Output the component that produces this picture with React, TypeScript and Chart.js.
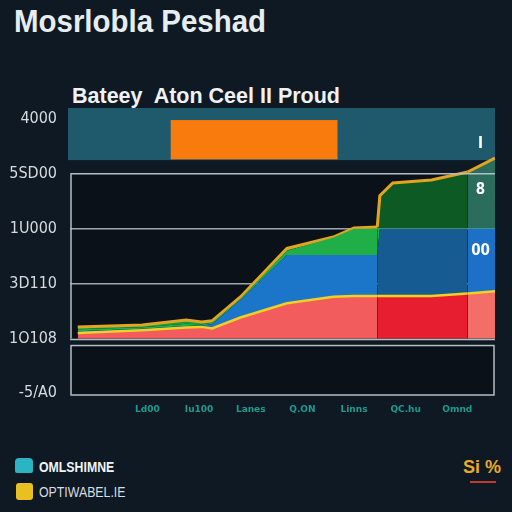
import React, { useEffect, useRef } from "react";
import { Chart, registerables } from "chart.js";

Chart.register(...registerables);

// ---- data ----
const xPoints = [-0.35, 0.9, 1.75, 2.05, 2.25, 2.8, 3.7, 4.6, 5.0, 5.45, 5.5, 5.75, 6.5, 7.2, 7.73];
const redTop = [100, 150, 200, 210, 180, 380, 640, 760, 775, 775, 775, 775, 775, 820, 860];
const blueTop = [130, 175, 225, 235, 260, 700, 1520, 1520, 1520, 1520, 2000, 2000, 2000, 2000, 2000];
const greenTop = [165, 205, 265, 255, 285, 725, 1600, 1840, 2000, 2000, 2010, 2010, 2010, 2010, 2010];
const outlineTop = [210, 244, 335, 299, 320, 755, 1640, 1848, 2012, 2030, 2600, 2833, 2888, 3033, 3288];

const xTickValues = [1, 2, 3, 4, 5, 6, 7];
const xTickLabels = ["Ld00", "Iu100", "Lanes", "Q.ON", "Linns", "QC.hu", "Omnd"];
const yTickValues = [-1000, 0, 1000, 2000, 3000, 4000];
const yTickLabels = ["-5/A0", "1O108", "3D110", "1U000", "5SD00", "4000"];

const bandRange = [3250, 4200];
const orangeX = [1.45, 4.68];
const orangeY = [3265, 3980];
const panelTop = [0, 3000];
const panelBottom = [-1050, -130];
const columnLabels = ["I", "8", "00"];
const columnLabelY = [3550, 2700, 1600];
const columnLabelX = 7.45;

const title = "Mosrlobla Peshad";
const subtitle = "Bateey  Aton Ceel II Proud";
const legendLabels = ["OMLSHIMNE", "OPTIWABEL.IE"];
const badge = "Si %";

const zoneColor = (x: number, a: string, b: string, c: string) =>
  x < 5.45 ? a : x < 7.2 ? b : c;

export default function App() {
  const ref = useRef<HTMLCanvasElement | null>(null);
  useEffect(() => {
    if (!ref.current) return;
    const bgPlugin = {
      id: "bg",
      beforeDraw(chart: any) {
        const { ctx, scales } = chart;
        const x = scales.x, y = scales.y;
        const l = x.getPixelForValue(x.min), r = x.getPixelForValue(x.max);
        ctx.save();
        ctx.fillStyle = "#1f5a6c";
        const bt = y.getPixelForValue(bandRange[1]), bb = y.getPixelForValue(bandRange[0]);
        ctx.fillRect(l - 2, bt, r - l + 2, bb - bt);
        ctx.fillStyle = "#fa7b0d";
        const ox0 = x.getPixelForValue(orangeX[0]), ox1 = x.getPixelForValue(orangeX[1]);
        const oy0 = y.getPixelForValue(orangeY[1]), oy1 = y.getPixelForValue(orangeY[0]);
        ctx.fillRect(ox0, oy0, ox1 - ox0, oy1 - oy0);
        ctx.fillStyle = "#0a1119";
        const p1t = y.getPixelForValue(panelTop[1]), p1b = y.getPixelForValue(panelTop[0]);
        ctx.fillRect(l, p1t, r - l, p1b - p1t);
        const p2t = y.getPixelForValue(panelBottom[1]), p2b = y.getPixelForValue(panelBottom[0]);
        ctx.fillRect(l, p2t, r - l, p2b - p2t);
        ctx.restore();
      },
      afterDatasetsDraw(chart: any) {
        const { ctx, scales } = chart;
        const x = scales.x, y = scales.y;
        const l = x.getPixelForValue(x.min), r = x.getPixelForValue(x.max);
        ctx.save();
        ctx.strokeStyle = "#b4bec5";
        ctx.lineWidth = 1.5;
        const p1t = y.getPixelForValue(panelTop[1]), p1b = y.getPixelForValue(panelTop[0]);
        ctx.beginPath();
        ctx.moveTo(l + 1, p1b);
        ctx.lineTo(l + 1, p1t);
        ctx.lineTo(r, p1t);
        ctx.stroke();
        ctx.beginPath();
        ctx.moveTo(l, p1b + 1);
        ctx.lineTo(r, p1b + 1);
        ctx.stroke();
        const p2t = y.getPixelForValue(panelBottom[1]), p2b = y.getPixelForValue(panelBottom[0]);
        ctx.strokeRect(l + 1, p2t, r - l - 2, p2b - p2t - 1);
        ctx.fillStyle = "#ffffff";
        ctx.font = "bold 15px 'DejaVu Sans Condensed', 'DejaVu Sans', sans-serif";
        ctx.textAlign = "center";
        ctx.textBaseline = "middle";
        columnLabels.forEach((t, i) => {
          ctx.fillText(t, x.getPixelForValue(columnLabelX), y.getPixelForValue(columnLabelY[i]));
        });
        ctx.restore();
      },
    };

    const mk = (d: number[]) => xPoints.map((xv, i) => ({ x: xv, y: d[i] }));
    const chart = new Chart(ref.current, {
      type: "line",
      data: {
        datasets: [
          {
            data: mk(redTop),
            fill: "origin",
            backgroundColor: "#f25c5c",
            borderColor: "#f0d020",
            borderWidth: 2.5,
            pointRadius: 0,
            segment: {
              backgroundColor: (c: any) => zoneColor(c.p0.parsed.x, "#f25c5c", "#e61e30", "#f26e66"),
            },
          },
          {
            data: mk(blueTop),
            fill: "-1",
            backgroundColor: "#1b76c9",
            borderColor: "rgba(0,0,0,0)",
            borderWidth: 0,
            pointRadius: 0,
            segment: {
              backgroundColor: (c: any) => zoneColor(c.p0.parsed.x, "#1b76c9", "#165c92", "#1c70c8"),
            },
          },
          {
            data: mk(greenTop),
            fill: "-1",
            backgroundColor: "#1fae48",
            borderColor: "rgba(0,0,0,0)",
            borderWidth: 0,
            pointRadius: 0,
          },
          {
            data: mk(outlineTop),
            fill: "-1",
            backgroundColor: "#0e5a25",
            borderColor: "#e3a521",
            borderWidth: 3,
            pointRadius: 0,
            segment: {
              backgroundColor: (c: any) => zoneColor(c.p0.parsed.x, "#10a040", "#0e5a25", "#2b6d5c"),
            },
          },
        ],
      },
      options: {
        responsive: false,
        animation: false,
        layout: { padding: { left: 0, right: 17, top: 8, bottom: 10 } },
        plugins: { legend: { display: false }, tooltip: { enabled: false } },
        scales: {
          x: {
            type: "linear",
            min: -0.5,
            max: 7.73,
            afterBuildTicks: (s: any) => {
              s.ticks = xTickValues.map((v) => ({ value: v }));
            },
            afterFit: (s: any) => {
              s.height = 34;
              s.paddingLeft = 0;
              s.paddingRight = 0;
            },
            ticks: {
              color: "#1e9c8c",
              font: { size: 9, weight: "bold", family: "'DejaVu Sans', sans-serif" },
              padding: 8,
              maxRotation: 0,
              callback: (v: any) => xTickLabels[xTickValues.indexOf(Number(v))] ?? "",
            },
            grid: { display: false, drawTicks: false },
            border: { display: false },
          },
          y: {
            type: "linear",
            min: -1050,
            max: 4200,
            afterBuildTicks: (s: any) => {
              s.ticks = yTickValues.map((v) => ({ value: v }));
            },
            afterFit: (s: any) => {
              s.width = 70;
              s.paddingTop = 0;
              s.paddingBottom = 0;
            },
            ticks: {
              color: "#d5dbe0",
              font: { size: 16, family: "'DejaVu Sans Condensed', 'DejaVu Sans', sans-serif" },
              padding: 13,
              callback: (v: any) => yTickLabels[yTickValues.indexOf(Number(v))] ?? "",
            },
            grid: {
              drawTicks: false,
              lineWidth: 1.5,
              color: (c: any) =>
                c.tick && (c.tick.value === 1000 || c.tick.value === 2000) ? "#9aa7b0" : "rgba(0,0,0,0)",
            },
            border: { display: false },
          },
        },
      },
      plugins: [bgPlugin],
    } as any);
    return () => chart.destroy();
  }, []);

  return (
    <div
      style={{
        position: "fixed",
        left: 0,
        top: 0,
        width: 512,
        height: 512,
        background: "#0e1923",
        overflow: "hidden",
        fontFamily: "'Liberation Sans', Arial, sans-serif",
      }}
    >
      <div
        style={{
          position: "absolute",
          left: 14,
          top: 4,
          fontSize: 31,
          fontWeight: "bold",
          color: "#e6edf1",
          whiteSpace: "nowrap",
          transform: "scaleX(0.95)",
          transformOrigin: "left top",
        }}
      >
        {title}
      </div>
      <div
        style={{
          position: "absolute",
          left: 72,
          top: 84,
          fontSize: 21.5,
          fontWeight: "bold",
          color: "#eef2f5",
          whiteSpace: "pre",
        }}
      >
        {subtitle}
      </div>
      <div style={{ position: "absolute", left: 0, top: 100, width: 512, height: 340 }}>
        <canvas ref={ref} width={512} height={340} style={{ display: "block" }} />
      </div>
      <div
        style={{
          position: "absolute",
          left: 15,
          top: 458,
          width: 18,
          height: 15,
          background: "#2ab4c4",
          borderRadius: "4px 4px 2px 2px",
        }}
      />
      <div
        style={{
          position: "absolute",
          left: 16,
          top: 483,
          width: 17,
          height: 17,
          background: "#e8c020",
          borderRadius: 3,
        }}
      />
      <div
        style={{
          position: "absolute",
          left: 39,
          top: 459,
          fontSize: 14,
          fontWeight: "bold",
          color: "#f0f3f5",
          whiteSpace: "nowrap",
          transform: "scaleX(0.88)",
          transformOrigin: "left top",
        }}
      >
        {legendLabels[0]}
      </div>
      <div
        style={{
          position: "absolute",
          left: 39,
          top: 484,
          fontSize: 14,
          color: "#d8dde0",
          whiteSpace: "nowrap",
          transform: "scaleX(0.88)",
          transformOrigin: "left top",
        }}
      >
        {legendLabels[1]}
      </div>
      <div
        style={{
          position: "absolute",
          left: 463,
          top: 457,
          fontSize: 18,
          fontWeight: "bold",
          color: "#e9a92a",
          whiteSpace: "nowrap",
        }}
      >
        {badge}
      </div>
      <div style={{ position: "absolute", left: 470, top: 481, width: 26, height: 2, background: "#c23a2a" }} />
    </div>
  );
}
